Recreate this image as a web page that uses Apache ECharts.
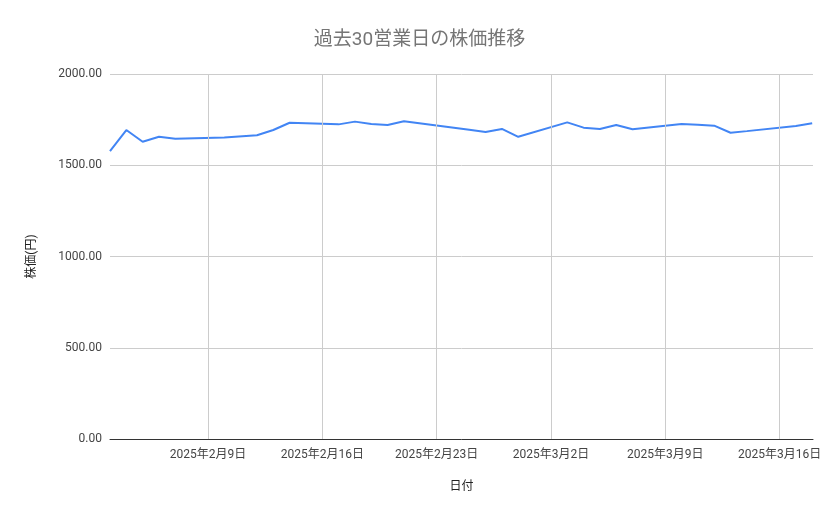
<!DOCTYPE html>
<html><head><meta charset="utf-8">
<script src="https://cdn.jsdelivr.net/npm/echarts@6/dist/echarts.min.js"></script>
<style>body{margin:0}#main{width:839px;height:519px}</style>
</head><body><div id="main"></div>
<script>
// 営業日（2025年）と終値
const dates = ['2025-02-03','2025-02-04','2025-02-05','2025-02-06','2025-02-07','2025-02-10','2025-02-12','2025-02-13','2025-02-14',
  '2025-02-17','2025-02-18','2025-02-19','2025-02-20','2025-02-21','2025-02-25','2025-02-26','2025-02-27','2025-02-28',
  '2025-03-03','2025-03-04','2025-03-05','2025-03-06','2025-03-07','2025-03-10','2025-03-11','2025-03-12','2025-03-13','2025-03-14',
  '2025-03-17','2025-03-18'];
const prices = [1578,1693,1629,1656,1645,1652,1664,1693,1733,
  1724,1739,1726,1721,1741,1694,1682,1699,1656,
  1735,1706,1699,1721,1697,1726,1722,1717,1678,1687,
  1715,1730];
const tickDates = ['2025-02-09','2025-02-16','2025-02-23','2025-03-02','2025-03-09','2025-03-16'];

const DAY = 86400000;
const t0 = Date.UTC(2025,1,3);
const dayIdx = s => (Date.parse(s + 'T00:00:00Z') - t0) / DAY;
const tickIdx = tickDates.map(dayIdx);
const labelOf = d => { const t = new Date(t0 + d*DAY); return t.getUTCFullYear()+'年'+(t.getUTCMonth()+1)+'月'+t.getUTCDate()+'日'; };

const chart = echarts.init(document.getElementById('main'));
chart.setOption({
  animation: false,
  textStyle: { fontFamily: 'Roboto, "Noto Sans CJK JP", sans-serif' },
  title: { text: '過去30営業日の株価推移', left: 'center', top: 26,
    textStyle: { color: '#757575', fontSize: 19, fontWeight: 'normal' } },
  grid: { left: 110, right: 26, top: 74, bottom: 80 },
  xAxis: {
    type: 'value', min: 0, max: 43.05,
    name: '日付', nameLocation: 'middle', nameGap: 42,
    nameTextStyle: { color: '#222', fontSize: 12 },
    axisLine: { lineStyle: { color: '#333' } },
    axisTick: { show: false, customValues: tickIdx },
    axisLabel: { customValues: tickIdx, formatter: labelOf, color: '#444', fontSize: 12, margin: 10 },
    splitLine: { show: false }
  },
  yAxis: {
    type: 'value', min: 0, max: 2000, interval: 500,
    name: '株価(円)', nameLocation: 'middle', nameGap: 72,
    nameTextStyle: { color: '#222', fontSize: 12 },
    axisLine: { show: false }, axisTick: { show: false },
    axisLabel: { formatter: v => v.toFixed(2), color: '#444', fontSize: 12 },
    splitLine: { lineStyle: { color: '#ccc' } }
  },
  series: [{
    type: 'line', showSymbol: false,
    data: dates.map((d,i) => [dayIdx(d), prices[i]]),
    lineStyle: { color: '#4285f4', width: 2 }, itemStyle: { color: '#4285f4' },
    markLine: { silent: true, symbol: 'none', label: { show: false },
      lineStyle: { color: '#ccc', type: 'solid', width: 1 },
      data: tickIdx.map(x => ({ xAxis: x })) }
  }]
});
</script></body></html>
